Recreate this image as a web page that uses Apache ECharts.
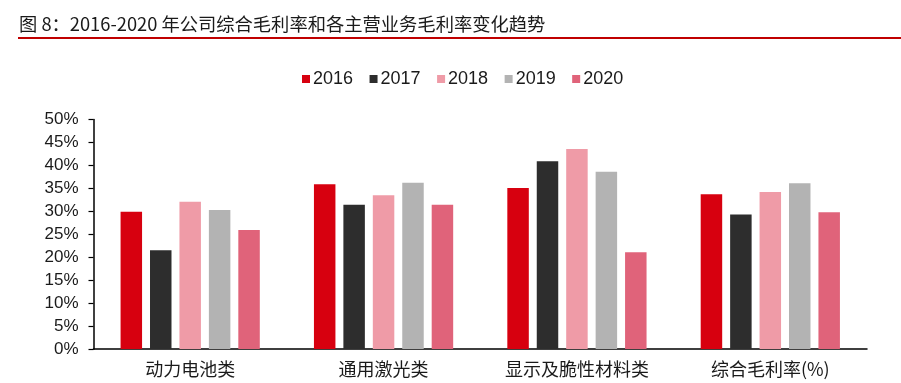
<!DOCTYPE html>
<html>
<head>
<meta charset="utf-8">
<script src="https://cdn.jsdelivr.net/npm/echarts@6/dist/echarts.min.js"></script>
<style>
html,body{margin:0;padding:0;background:#fff;}
#chart{width:901px;height:383px;}
</style>
</head>
<body>
<div id="chart"></div>
<script>
var titleText = '图 8：2016-2020 年公司综合毛利率和各主营业务毛利率变化趋势';
var categories = ['动力电池类', '通用激光类', '显示及脆性材料类', '综合毛利率(%)'];
var seriesNames = ['2016', '2017', '2018', '2019', '2020'];
var v2016 = [29.9, 35.9, 35.1, 33.7];
var v2017 = [21.5, 31.4, 40.9, 29.3];
var v2018 = [32.1, 33.5, 43.6, 34.2];
var v2019 = [30.3, 36.2, 38.6, 36.1];
var v2020 = [25.9, 31.4, 21.1, 29.8];
var seriesValues = [v2016, v2017, v2018, v2019, v2020];
var colors = ['#D7000F', '#2D2D2D', '#EF9BA7', '#B3B3B3', '#E0637A'];

var font = '"Liberation Sans", Arial, "Noto Sans CJK SC", sans-serif';
var cjkFont = '"Noto Sans CJK SC", "Liberation Sans", sans-serif';

var chart = echarts.init(document.getElementById('chart'), null, {renderer: 'canvas'});
chart.setOption({
  animation: false,
  backgroundColor: '#ffffff',
  color: colors,
  title: {
    text: titleText,
    left: 14,
    top: 10,
    textStyle: {fontFamily: cjkFont, fontSize: 18.3, fontWeight: 'normal', color: '#1a1a1a'}
  },
  graphic: [{
    type: 'line',
    shape: {x1: 18, y1: 38, x2: 901, y2: 38},
    style: {stroke: '#C00000', lineWidth: 2}
  }],
  legend: {
    left: 297,
    top: 65,
    itemWidth: 8,
    itemHeight: 8,
    itemGap: 16.5,
    icon: 'rect',
    textStyle: {fontFamily: font, fontSize: 18, color: '#1a1a1a', padding: [0, 0, 0, -2]},
    data: seriesNames
  },
  grid: {left: 93.5, right: 34, top: 119.5, bottom: 34, containLabel: false},
  xAxis: {
    type: 'category',
    data: categories,
    axisLine: {lineStyle: {color: '#000', width: 1.5}},
    axisTick: {show: false},
    axisLabel: {fontFamily: cjkFont, fontSize: 18, color: '#1a1a1a', margin: 11}
  },
  yAxis: {
    type: 'value',
    min: 0,
    max: 50,
    interval: 5,
    axisLine: {show: true, lineStyle: {color: '#000', width: 1.5}},
    axisTick: {show: true, inside: false, length: 5, lineStyle: {color: '#000', width: 1.2}},
    splitLine: {show: false},
    axisLabel: {fontFamily: font, fontSize: 17, color: '#1a1a1a', margin: 15, formatter: '{value}%'}
  },
  series: seriesNames.map(function (name, i) {
    return {
      name: name,
      type: 'bar',
      data: seriesValues[i],
      barGap: '37%',
      barCategoryGap: '28%',
      itemStyle: {color: colors[i]}
    };
  })
});
</script>
</body>
</html>
